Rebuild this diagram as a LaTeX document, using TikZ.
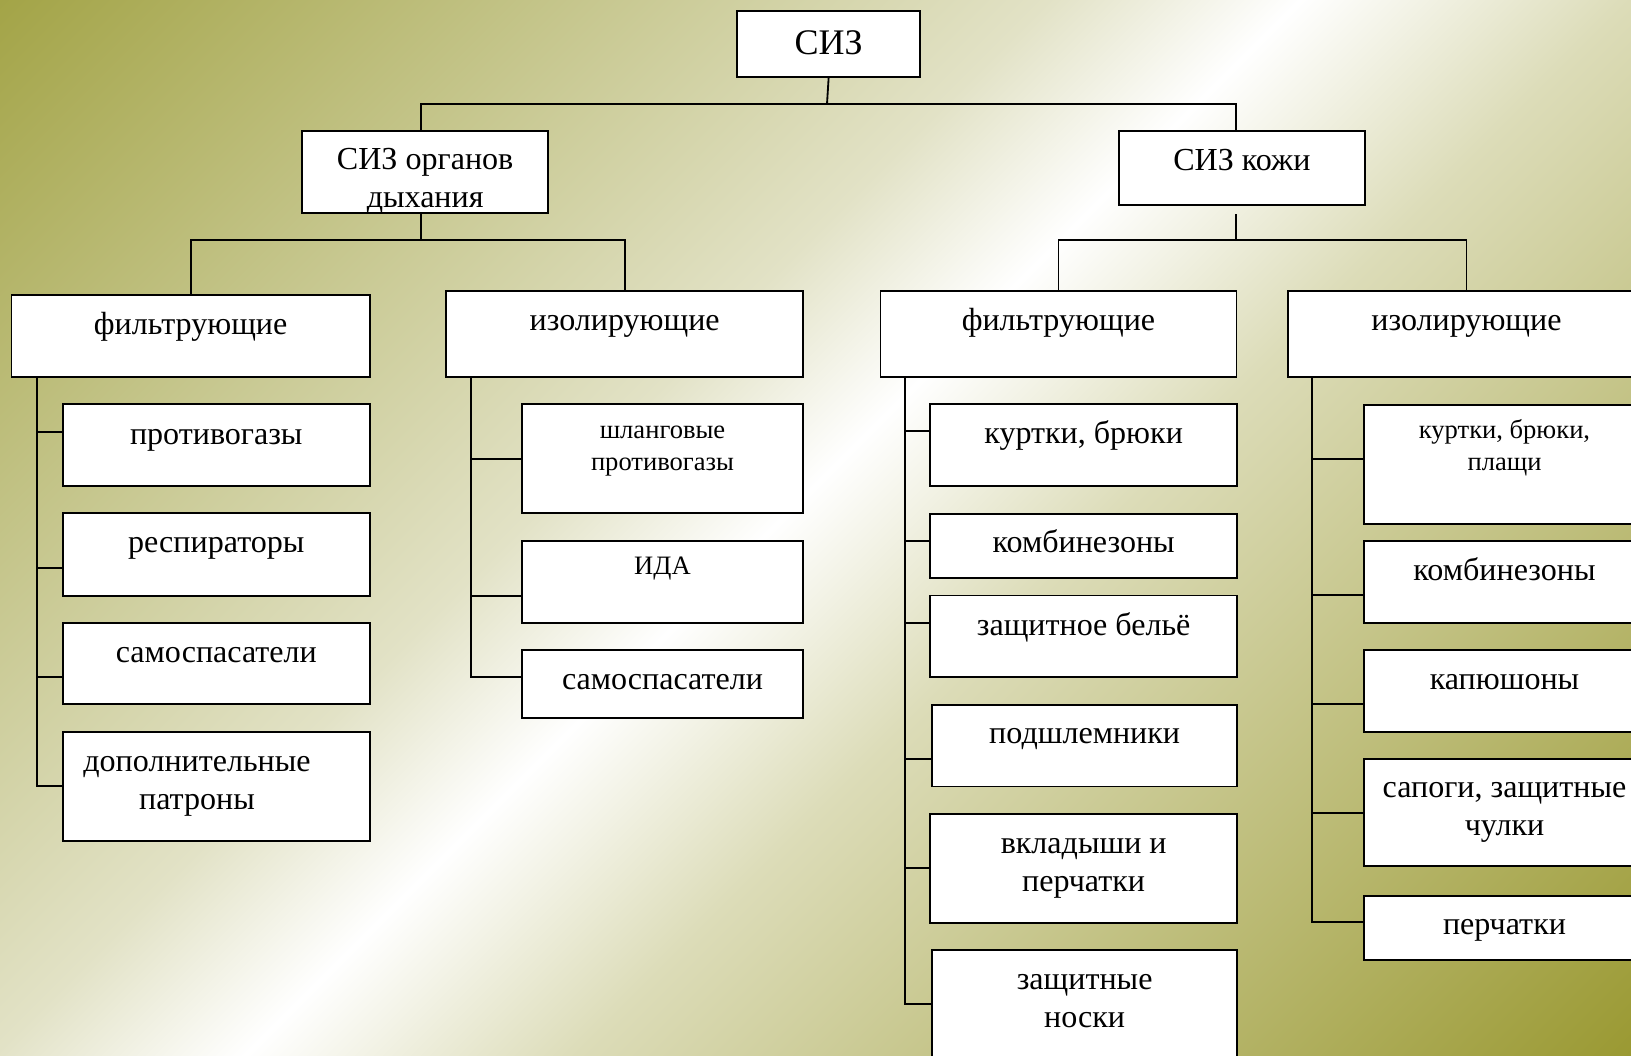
\documentclass[tikz,border=0pt]{standalone}
\usepackage{fontspec}
\setmainfont{Liberation Serif}
\usetikzlibrary{fit}

\definecolor{olivetl}{RGB}{163,164,71}
\definecolor{olivebr}{RGB}{154,153,50}
\definecolor{khakibl}{RGB}{226,226,198}
\definecolor{khakitr}{RGB}{220,220,184}
\pgfdeclarehorizontalshading{olivewhite}{100bp}{color(0bp)=(olivetl); color(25bp)=(olivetl); color(44.5bp)=(khakibl); color(49.2bp)=(white); color(55.35bp)=(khakitr); color(75bp)=(olivebr); color(100bp)=(olivebr)}

\begin{document}
\begin{tikzpicture}[x = 0.025cm, y = -0.025cm,
  box/.style = {draw, line width = 1.3pt, fill = white, inner sep = 0pt},
  toptext/.style = {inner sep = 0pt, font = \fontsize{25.6}{30}\selectfont},
  bigtext/.style = {align = center, inner sep = 0pt, font = \fontsize{22.8}{27}\selectfont},
  smalltext/.style = {align = center, inner sep = 0pt, font = \fontsize{18.9}{22.8}\selectfont},
  link/.style = {line width = 1.3pt}]
\useasboundingbox (0,0) rectangle (1631,1056);
\clip (0,0) rectangle (1631,1056);
\begin{scope}[transform canvas = {rotate = -45}]
\shade [shading = olivewhite] (0,-1200) rectangle (1900,800);
\end{scope}

% upper levels
\node [box, fit = {(737.4,10.7) (919.8,77.3)}] (siz) {};
\node [box, fit = {(302.3,131) (548,213.3)}] (org) {};
\node [box, fit = {(1119,131) (1364.7,204.7)}] (koz) {};
\node [box, fit = {(11.5,295) (369.8,377.3)}] (of) {};
\node [box, fit = {(446,290.7) (803.3,377.3)}] (oi) {};
\node [box, fit = {(880.5,290.7) (1236.4,377.3)}] (kf) {};
\node [box, fit = {(1288,290.7) (1645,377.3)}] (ki) {};

% lower level
\node [box, fit = {(62.8,404) (369.8,486)}] (of1) {};
\node [box, fit = {(62.8,513) (369.8,595.7)}] (of2) {};
\node [box, fit = {(62.8,622.7) (369.8,704)}] (of3) {};
\node [box, fit = {(62.8,731.7) (369.8,841)}] (of4) {};
\node [box, fit = {(522,404) (803,513)}] (oi1) {};
\node [box, fit = {(522,541) (803,622.7)}] (oi2) {};
\node [box, fit = {(522,650) (803,718)}] (oi3) {};
\node [box, fit = {(930.3,403.7) (1237,485.6)}] (kf1) {};
\node [box, fit = {(930.3,513.6) (1237,578.3)}] (kf2) {};
\node [box, fit = {(930.3,595.5) (1237,677.4)}] (kf3) {};
\node [box, fit = {(932.3,704.6) (1237,786.5)}] (kf4) {};
\node [box, fit = {(930.3,814) (1237,923)}] (kf5) {};
\node [box, fit = {(932.3,949.8) (1237,1075)}] (kf6) {};
\node [box, fit = {(1364,404.6) (1645,524.4)}] (ki1) {};
\node [box, fit = {(1364,540.8) (1645,622.7)}] (ki2) {};
\node [box, fit = {(1364,650.3) (1645,732)}] (ki3) {};
\node [box, fit = {(1364,759.3) (1645,866.2)}] (ki4) {};
\node [box, fit = {(1364,896) (1645,959.7)}] (ki5) {};

\node [toptext] (siz-t) at (siz.north |- 0,43) {СИЗ};
\node [bigtext] (org-t) at (org.north |- 0,181) {СИЗ органов\\дыхания};
\node [bigtext] (koz-t) at (koz.north |- 0,160) {СИЗ кожи};
\node [bigtext] (of-t) at (of.north |- 0,327) {фильтрующие};
\node [bigtext] (oi-t) at (oi.north |- 0,326) {изолирующие};
\node [bigtext] (kf-t) at (kf.north |- 0,323) {фильтрующие};
\node [bigtext] (ki-t) at (ki.north |- 0,326) {изолирующие};
\node [bigtext] (of1-t) at (of1.north |- 0,440) {противогазы};
\node [bigtext] (of2-t) at (of2.north |- 0,548) {респираторы};
\node [bigtext] (of3-t) at (of3.north |- 0,655) {самоспасатели};
\node [bigtext] (of4-t) at (197,786) {дополнительные\\патроны};
\node [smalltext] (oi1-t) at (oi1.north |- 0,451) {шланговые\\противогазы};
\node [smalltext] (oi2-t) at (oi2.north |- 0,569) {ИДА};
\node [bigtext] (oi3-t) at (oi3.north |- 0,682) {самоспасатели};
\node [bigtext] (kf1-t) at (kf1.north |- 0,435.5) {куртки, брюки};
\node [bigtext] (kf2-t) at (kf2.north |- 0,541) {комбинезоны};
\node [bigtext] (kf3-t) at (kf3.north |- 0,627) {защитное бельё};
\node [bigtext] (kf4-t) at (kf4.north |- 0,739) {подшлемники};
\node [bigtext] (kf5-t) at (kf5.north |- 0,868) {вкладыши и\\перчатки};
\node [bigtext] (kf6-t) at (kf6.north |- 0,1001) {защитные\\носки};
\node [smalltext] (ki1-t) at (ki1.north |- 0,448) {куртки, брюки,\\плащи};
\node [bigtext] (ki2-t) at (ki2.north |- 0,569) {комбинезоны};
\node [bigtext] (ki3-t) at (ki3.north |- 0,682.5) {капюшоны};
\node [bigtext] (ki4-t) at (ki4.north |- 0,812.5) {сапоги, защитные\\чулки};
\node [bigtext] (ki5-t) at (ki5.north |- 0,930) {перчатки};

% tree lines
\coordinate (j0) at (827,104);
\draw [link] (siz.south) -- (j0);
\draw [link] ([xshift = -0.11cm] org.north) |- (j0) -| ([xshift = -0.14cm] koz.north);
\coordinate (j1) at ([xshift = -0.11cm] org.south |- 0,240);
\draw [link] ([xshift = -0.11cm] org.south) -- (j1);
\draw [link] (of.north) |- (j1) -| (oi.north);
\coordinate (j2) at ([xshift = -0.14cm] koz.south |- 0,240);
\draw [link, shorten <= 0.22cm] ([xshift = -0.14cm] koz.south) -- (j2);
\draw [link] (kf.north) |- (j2) -| (ki.north);

\draw [link] ([xshift = 0.65cm] of.south west) |- (of4.west |- 0,786);
\draw [link] (of1.west |- 0,431.7) -- ++(-25,0);
\draw [link] (of2.west |- 0,568) -- ++(-25,0);
\draw [link] (of3.west |- 0,676.7) -- ++(-25,0);

\draw [link] ([xshift = 0.65cm] oi.south west) |- (oi3.west |- 0,676.7);
\draw [link] (oi1.west |- 0,459) -- ++(-50,0);
\draw [link] (oi2.west |- 0,596) -- ++(-50,0);

\draw [link] ([xshift = 0.63cm] kf.south west) |- (kf6.west |- 0,1004);
\draw [link] (kf1.west |- 0,430.9) -- ++(-24.6,0);
\draw [link] (kf2.west |- 0,540.8) -- ++(-24.6,0);
\draw [link] (kf3.west |- 0,622.7) -- ++(-24.6,0);
\draw [link] (kf4.west |- 0,758.9) -- ++(-26.6,0);
\draw [link] (kf5.west |- 0,868) -- ++(-24.6,0);

\draw [link] ([xshift = 0.63cm] ki.south west) |- (ki5.west |- 0,922);
\draw [link] (ki1.west |- 0,458.9) -- ++(-50.7,0);
\draw [link] (ki2.west |- 0,594.7) -- ++(-50.7,0);
\draw [link] (ki3.west |- 0,704) -- ++(-50.7,0);
\draw [link] (ki4.west |- 0,813.2) -- ++(-50.7,0);
\end{tikzpicture}
\end{document}
